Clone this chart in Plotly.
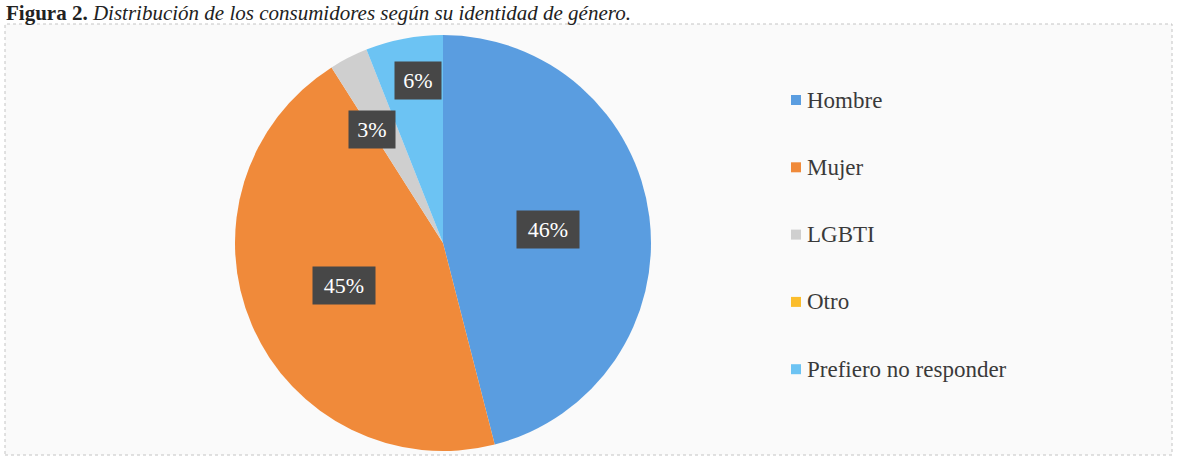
import math
import plotly.graph_objects as go

# Gender identity of surveyed consumers (share, %)
categories = ["Hombre", "Mujer", "LGBTI", "Otro", "Prefiero no responder"]
shares = [46, 45, 3, 0, 6]
slice_colors = ["#5a9de0", "#f08a3a", "#cfcfcf", "#fbbd2c", "#6cc3f3"]

# Data-label placement: radius as a fraction of the pie radius, and an
# angular nudge (degrees) away from the slice's mid-angle
label_radius = [0.51, 0.52, 0.645, None, 0.79]
label_nudge = [0.0, 0.0, -5.0, 0.0, 2.0]

W, H = 1178, 461
SERIF = "Liberation Serif, Times New Roman, serif"

# Pie geometry in pixels
cx, cy, R = 443, 243, 208


def px(x):
    return x / W


def py(y):
    return 1 - y / H


fig = go.Figure()

fig.add_trace(go.Pie(
    labels=categories,
    values=shares,
    marker=dict(colors=slice_colors, line=dict(width=0)),
    sort=False,
    direction="clockwise",
    rotation=0,
    textinfo="none",
    hoverinfo="label+percent",
    showlegend=False,
    domain=dict(x=[px(cx - R), px(cx + R)], y=[py(cy + R), py(cy - R)]),
))

# Chart frame
fig.add_shape(type="rect", xref="paper", yref="paper",
              x0=px(5), x1=px(1172), y0=py(455), y1=py(24),
              line=dict(color="#c4c4c4", width=1, dash="dot"),
              fillcolor="#fafafa", layer="below")

# Data labels in dark boxes
total = sum(shares)
start = 0.0
for cat, val, fr, nudge in zip(categories, shares, label_radius, label_nudge):
    span = 360.0 * val / total
    if val > 0 and fr is not None:
        mid = math.radians(start + span / 2 + nudge)
        lx = cx + fr * R * math.sin(mid)
        ly = cy - fr * R * math.cos(mid)
        text = f"{round(100 * val / total)}%"
        fig.add_annotation(
            x=px(lx), y=py(ly), xref="paper", yref="paper",
            text=text, showarrow=False,
            font=dict(family=SERIF, size=22, color="white"),
            bgcolor="#474747", borderpad=6,
            width=16 * len(text) + 2,
            xanchor="center", yanchor="middle",
        )
    start += span

# Legend drawn as squares and labels
legend_x, legend_y0, legend_step = 791, 100, 67.3
for i, (cat, col) in enumerate(zip(categories, slice_colors)):
    y = legend_y0 + i * legend_step
    fig.add_shape(type="rect", xref="paper", yref="paper",
                  x0=px(legend_x), x1=px(legend_x + 10),
                  y0=py(y + 5), y1=py(y - 5),
                  fillcolor=col, line=dict(width=0))
    fig.add_annotation(
        x=px(legend_x + 14), y=py(y), xref="paper", yref="paper",
        text=cat, showarrow=False,
        font=dict(family=SERIF, size=23, color="#3a3a3a"),
        xanchor="left", yanchor="middle",
    )

# Figure caption along the top edge
fig.add_annotation(
    x=px(4), y=py(-1), xref="paper", yref="paper",
    text="<b>Figura 2.</b> <i>Distribución de los consumidores según su identidad de género.</i>",
    showarrow=False,
    font=dict(family=SERIF, size=21, color="#222222"),
    xanchor="left", yanchor="top",
)

fig.update_layout(
    width=W, height=H,
    margin=dict(l=0, r=0, t=0, b=0),
    paper_bgcolor="white",
    plot_bgcolor="white",
)

fig.write_html("out.html")
